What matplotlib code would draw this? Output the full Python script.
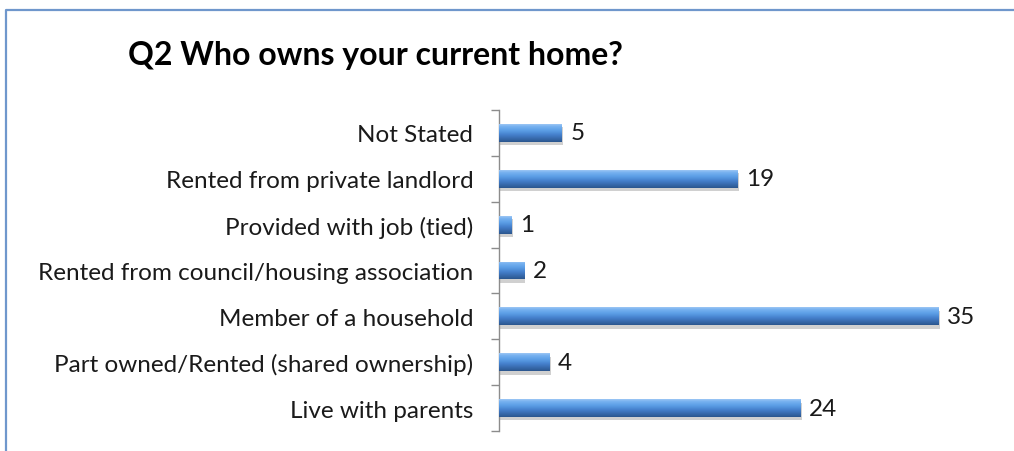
import numpy as np
import matplotlib
matplotlib.use("Agg")
import matplotlib.pyplot as plt
from matplotlib.colors import LinearSegmentedColormap
from matplotlib.lines import Line2D
from matplotlib.ticker import FixedLocator
import matplotlib.patheffects as pe

plt.rcParams['font.family'] = ['Lato', 'DejaVu Sans']

# Survey answers, listed top to bottom
categories = [
    "Not Stated",
    "Rented from private landlord",
    "Provided with job (tied)",
    "Rented from council/housing association",
    "Member of a household",
    "Part owned/Rented (shared ownership)",
    "Live with parents",
]
counts = [5, 19, 1, 2, 35, 4, 24]
title = "Q2 Who owns your current home?"

fig = plt.figure(figsize=(10.14, 4.52), dpi=100)
ax = fig.add_axes([499 / 1014, 20 / 452, 502 / 1014, 321 / 452])

n = len(categories)
ypos = np.arange(n)
bar_h = 0.39

# base bars with a soft drop shadow
bars = ax.barh(ypos, counts, height=bar_h, color="#4A86CF", edgecolor="none", zorder=2)
for b in bars:
    b.set_path_effects([pe.SimplePatchShadow(offset=(1, -2.5), shadow_rgbFace="#8a8a8a", alpha=0.4),
                        pe.Normal()])

# bevelled look: vertical gradient clipped to each bar
bevel = LinearSegmentedColormap.from_list("bevel", [
    (0.0, "#9CC6F4"), (0.12, "#78B2F0"), (0.35, "#5C9FE6"),
    (0.6, "#4580CC"), (0.85, "#3566A6"), (1.0, "#2B568E")])
grad = np.linspace(0, 1, 64).reshape(-1, 1)
for b, v, y in zip(bars, counts, ypos):
    im = ax.imshow(grad, cmap=bevel, aspect="auto", origin="upper",
                   extent=(0, v, y + bar_h / 2, y - bar_h / 2), zorder=3)
    im.set_clip_path(b)

for v, y in zip(counts, ypos):
    ax.text(v + 0.7, y, str(v), va="center", ha="left", fontsize=17.5, color="#1a1a1a")

ax.set_xlim(0, 40)
ax.set_ylim(n - 0.5, -0.5)
ax.set_yticks(ypos)
ax.set_yticklabels(categories, fontsize=17.5, color="#1a1a1a")
ax.tick_params(axis="y", which="major", length=0, pad=18.5)
ax.yaxis.set_minor_locator(FixedLocator(np.arange(-0.5, n, 1.0)))
ax.tick_params(axis="y", which="minor", length=6, width=1, color="#8c8c8c")
ax.set_xticks([])
for s in ["top", "right", "bottom"]:
    ax.spines[s].set_visible(False)
ax.spines["left"].set_color("#8c8c8c")
ax.spines["left"].set_linewidth(1)

fig.text(128 / 1014, 1 - 65 / 452, title, fontsize=23, fontweight="bold",
         va="baseline", ha="left", color="#000000")

# chart frame, left and top edges
frame = Line2D([6 / 1014, 6 / 1014, 1.0], [0.0, 1 - 11 / 452, 1 - 11 / 452],
               transform=fig.transFigure, color="#6F97CC", linewidth=1.6)
fig.add_artist(frame)

fig.savefig("out.png", dpi=100, facecolor="white")
